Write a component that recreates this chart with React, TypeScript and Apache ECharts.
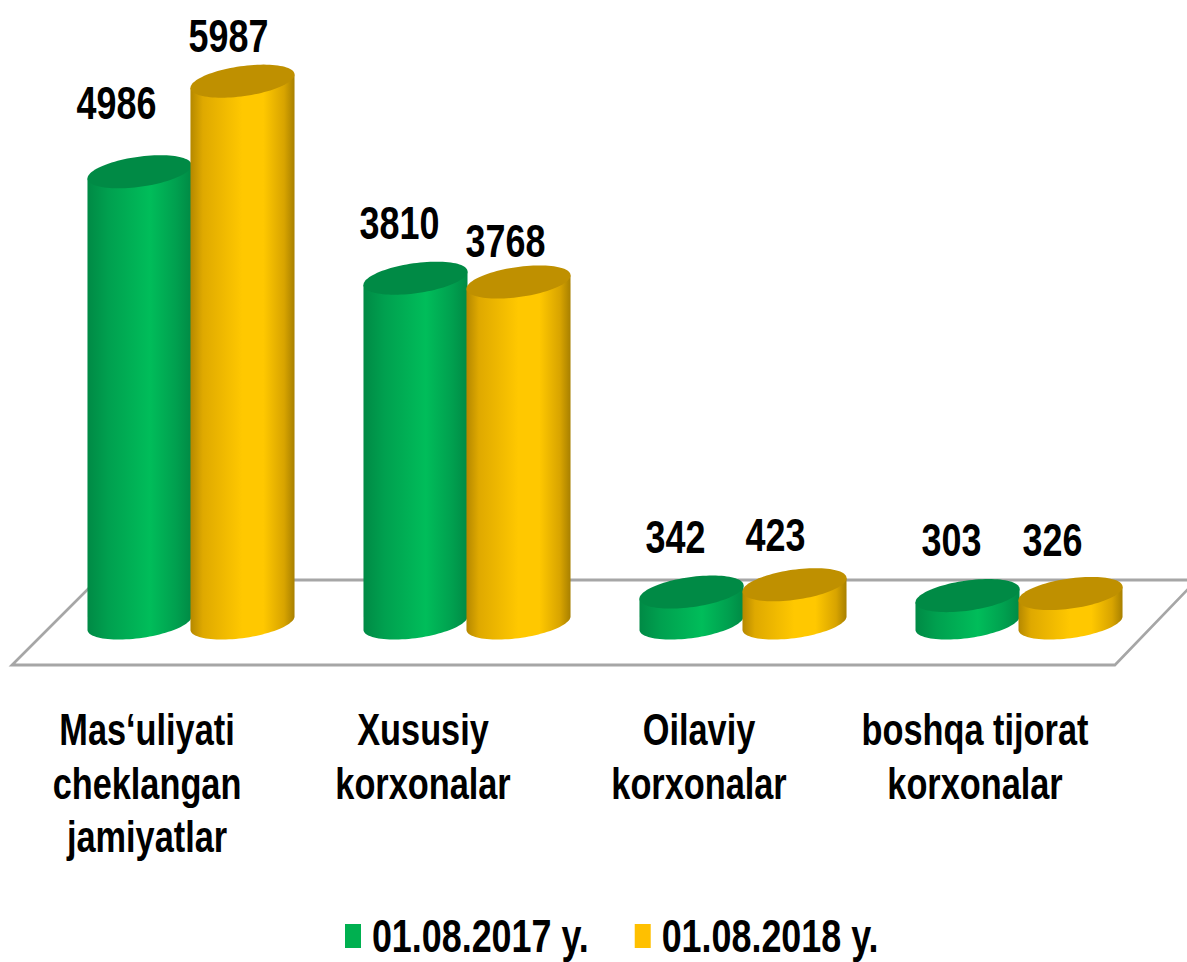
import React, { useEffect, useRef } from "react";
import * as echarts from "echarts";

const categories = [
  "Mas‘uliyati\ncheklangan\njamiyatlar",
  "Xususiy\nkorxonalar",
  "Oilaviy\nkorxonalar",
  "boshqa tijorat\nkorxonalar",
];
const series2017 = [4986, 3810, 342, 303];
const series2018 = [5987, 3768, 423, 326];
const seriesNames = ["01.08.2017 y.", "01.08.2018 y."];
const labelRise2017 = [68, 55, 55, 55];
const labelRise2018 = [45, 41, 49, 53];
const labelShift2017 = [-23, -16, -16, -16];
const labelShift2018 = [-14, -13, -19, -18];

const FONT = '"Liberation Sans", Arial, sans-serif';
// The reference type is condensed: the whole chart is drawn wider and squeezed horizontally.
const SX = 0.78;
const TILT = (8 * Math.PI) / 180;
const RX = 52.5;
const RY = 15;

const palette = [
  {
    stops: [
      [0, "#008a45"],
      [0.2, "#00a04f"],
      [0.6, "#00bd5a"],
      [0.85, "#00a04f"],
      [1, "#008a45"],
    ],
    top: "#008a45",
    solid: "#00b050",
  },
  {
    stops: [
      [0, "#b58800"],
      [0.12, "#dfa900"],
      [0.5, "#ffc800"],
      [0.7, "#ffc800"],
      [0.9, "#d8a400"],
      [1, "#a88000"],
    ],
    top: "#bf9000",
    solid: "#ffc000",
  },
];

// a point of the tilted ellipse, in unsqueezed chart pixels
function ellipsePoint(cx: number, cy: number, t: number): [number, number] {
  const ex = RX * Math.cos(t);
  const ey = RY * Math.sin(t);
  return [cx + (ex * Math.cos(TILT) + ey * Math.sin(TILT)) / SX, cy - ex * Math.sin(TILT) + ey * Math.cos(TILT)];
}

function makeRenderItem(idx: number, rises: number[], shifts: number[]) {
  return (params: any, api: any) => {
    const cat = api.value(0);
    const val = api.value(1);
    const [xc, yTop] = api.coord([cat, val]);
    const [, yBase] = api.coord([cat, 0]);
    const cx = xc + (idx === 0 ? -51.5 : 51.5) / SX;
    const c = palette[idx];
    const t0 = Math.atan2(RY * Math.sin(TILT), RX * Math.cos(TILT));
    const under: [number, number][] = [];
    const n = 48;
    for (let i = 0; i <= n; i++) under.push(ellipsePoint(cx, yBase, t0 + (Math.PI * i) / n));
    const rightT: [number, number] = [under[0][0], under[0][1] - (yBase - yTop)];
    const leftT: [number, number] = [under[n][0], under[n][1] - (yBase - yTop)];
    const cap: [number, number][] = [];
    for (let i = 0; i < 96; i++) cap.push(ellipsePoint(cx, yTop, (2 * Math.PI * i) / 96));
    return {
      type: "group",
      children: [
        {
          type: "polygon",
          shape: { points: [rightT, ...under, leftT] },
          style: {
            fill: new echarts.graphic.LinearGradient(
              0,
              0,
              1,
              0,
              c.stops.map(([offset, color]) => ({ offset, color }))
            ),
          },
        },
        { type: "polygon", shape: { points: cap }, style: { fill: c.top } },
        {
          type: "text",
          style: {
            text: String(val),
            x: cx + shifts[cat] / SX,
            y: yTop - rises[cat],
            align: "center",
            verticalAlign: "middle",
            fill: "#000",
            font: `bold 46px ${FONT}`,
          },
        },
      ],
    };
  };
}

export default function App() {
  const ref = useRef<HTMLDivElement>(null);
  useEffect(() => {
    document.body.style.margin = "0";
    const chart = echarts.init(ref.current!, null, { renderer: "svg" });
    chart.setOption({
      animation: false,
      backgroundColor: "#fff",
      grid: { left: 53 / SX, top: 80, width: 1104 / SX, height: 543, outerBoundsMode: "none" },
      xAxis: {
        type: "category",
        data: categories,
        axisLine: { show: false },
        axisTick: { show: false },
        axisLabel: {
          interval: 0,
          margin: 80,
          padding: [0, 88 / SX, 0, 0],
          color: "#000",
          fontFamily: FONT,
          fontWeight: "bold",
          fontSize: 44,
          lineHeight: 53.5,
        },
      },
      yAxis: { type: "value", min: 0, max: 6000, show: false },
      legend: {
        left: 345 / SX,
        top: 913,
        padding: 0,
        itemWidth: 16 / SX,
        itemHeight: 24,
        itemGap: 46 / SX,
        icon: "rect",
        selectedMode: false,
        data: seriesNames,
        textStyle: { color: "#000", fontFamily: FONT, fontWeight: "bold", fontSize: 46, padding: [0, 0, 0, 9] },
      },
      graphic: [
        {
          type: "polyline",
          z: 0,
          shape: {
            points: [
              [1190 / SX, 587],
              [1115 / SX, 665],
              [12 / SX, 665],
              [97 / SX, 580],
              [1190 / SX, 580],
            ],
          },
          style: { fill: "#fff", stroke: "#a6a6a6", lineWidth: 3 },
        },
      ],
      series: [
        {
          type: "custom",
          name: seriesNames[0],
          z: 3,
          clip: false,
          itemStyle: { color: palette[0].solid },
          encode: { x: 0, y: 1 },
          data: series2017.map((v, i) => [i, v]),
          renderItem: makeRenderItem(0, labelRise2017, labelShift2017),
        },
        {
          type: "custom",
          name: seriesNames[1],
          z: 4,
          clip: false,
          itemStyle: { color: palette[1].solid },
          encode: { x: 0, y: 1 },
          data: series2018.map((v, i) => [i, v]),
          renderItem: makeRenderItem(1, labelRise2018, labelShift2018),
        },
      ],
    });
    return () => chart.dispose();
  }, []);
  return (
    <div style={{ position: "absolute", left: 0, top: 0, width: 1187, height: 962, overflow: "hidden" }}>
      <div
        ref={ref}
        style={{ width: 1187 / SX, height: 962, transform: `scaleX(${SX})`, transformOrigin: "0 0" }}
      />
    </div>
  );
}
